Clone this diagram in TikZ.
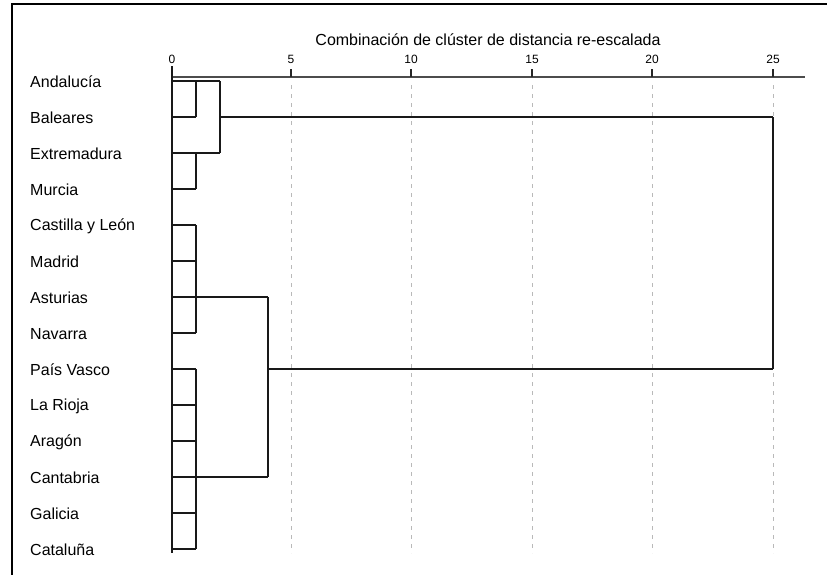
\documentclass[tikz,border=0pt]{standalone}
\usepackage{fontspec}
\setmainfont{Liberation Sans}
\begin{document}
\begin{tikzpicture}[x=1pt,y=-1pt,
  lab/.style={anchor=west,inner sep=0pt,font=\fontsize{16}{19}\selectfont},
  ticklab/.style={inner sep=0pt,font=\fontsize{12}{14}\selectfont},
  den/.style={line width=1.6pt,black!90},
  gridline/.style={gray!55,line width=0.9pt,dash pattern=on 4pt off 5pt},
  ticks/.style={line width=2pt,black!85}]
\useasboundingbox (0,0) rectangle (827,574);
% frame
\draw[line width=2pt] (12,580) -- (12,4) -- (830,4);
% title
\node[inner sep=0pt,font=\fontsize{16}{19}\selectfont] (title) at (488,40) {Combinación de clúster de distancia re-escalada};
% axis
\draw[line width=1.3pt,black!70] (172,77) -- (805,77);
\node[ticklab] (t0) at (172,59) {0};
\foreach \v/\x in {5/291,10/411,15/532,20/652,25/773}{
  \draw[gridline] (\x,85) -- (\x,553);
  \draw[ticks] (\x,69) -- (\x,77);
  \node[ticklab] (t\v) at (\x,59) {\v};
}
% leaves
\foreach \i/\n in {0/Andalucía,1/Baleares,2/Extremadura,3/Murcia,4/Castilla y León,5/Madrid,6/Asturias,7/Navarra,8/País Vasco,9/La Rioja,10/Aragón,11/Cantabria,12/Galicia,13/Cataluña}{
  \node[lab] (l\i) at (30,{82+36*\i}) {\n};
  \coordinate (p\i) at (172,{81+36*\i});
}
% spine
\draw[den] (172,66) -- (172,553);
% leaf stubs to distance 1
\foreach \i in {1,3,4,5,7,8,9,10,12,13}{
  \draw[den] (p\i) -- ++(24,0);
}
% longer stubs
\draw[den] (p0) -- ++(48,0);
\draw[den] (p2) -- ++(48,0);
\draw[den] (p6) -- ++(96,0);
\draw[den] (p11) -- ++(96,0);
% verticals at distance 1
\draw[den] ([xshift=24pt]p0) -- ([xshift=24pt]p1);
\draw[den] ([xshift=24pt]p2) -- ([xshift=24pt]p3);
\draw[den] ([xshift=24pt]p4) -- ([xshift=24pt]p7);
\draw[den] ([xshift=24pt]p8) -- ([xshift=24pt]p13);
% distance 2
\draw[den] ([xshift=48pt]p0) -- ([xshift=48pt]p2);
\draw[den] ([xshift=48pt]p1) -- ([xshift=601pt]p1);
% distance 4
\draw[den] ([xshift=96pt]p6) -- ([xshift=96pt]p11);
\draw[den] ([xshift=96pt]p8) -- ([xshift=601pt]p8);
% distance 25
\draw[den] ([xshift=601pt]p1) -- ([xshift=601pt]p8);
\end{tikzpicture}
\end{document}
